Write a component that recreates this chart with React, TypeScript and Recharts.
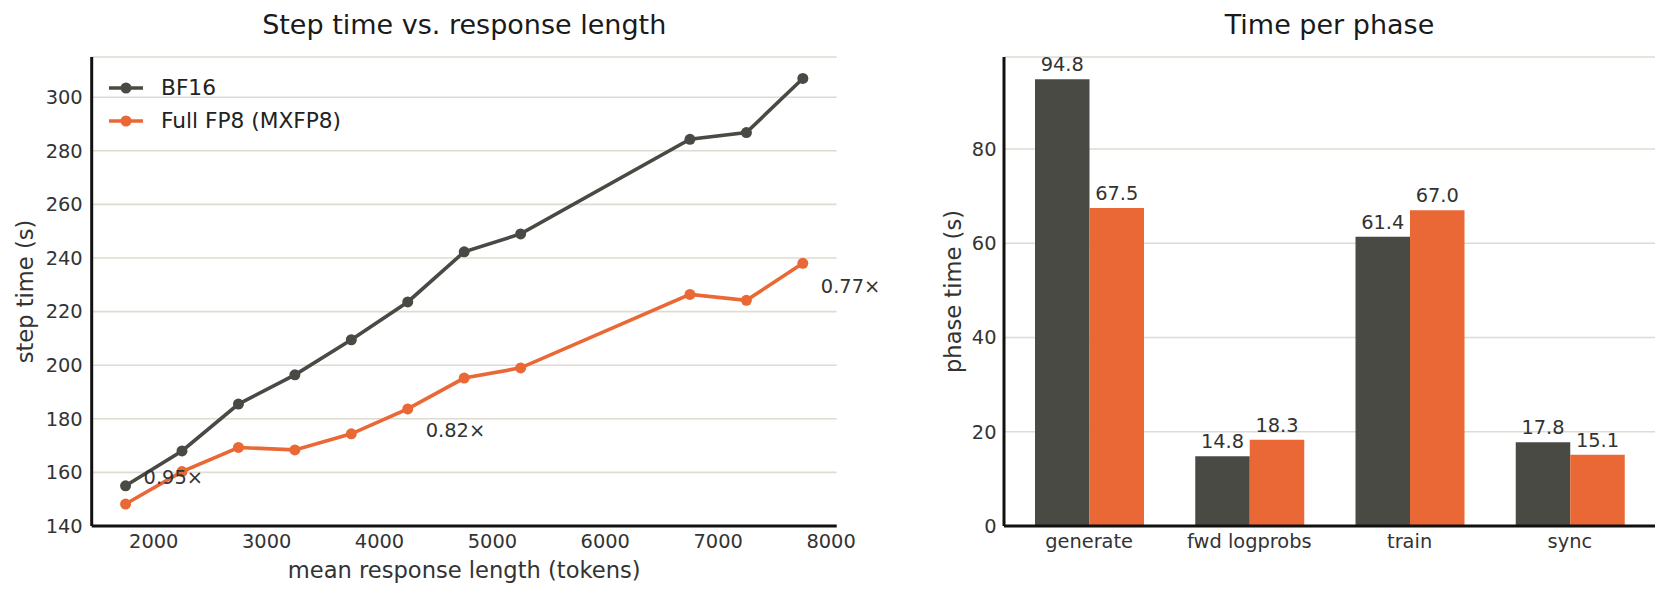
import React from 'react';
import {
  LineChart, Line, BarChart, Bar, XAxis, YAxis, CartesianGrid, Legend,
  ReferenceDot, LabelList, Label,
} from 'recharts';

// ---- Data ----
const lengths = [1750, 2250, 2750, 3250, 3750, 4250, 4750, 5250, 6750, 7250, 7750];
const bf16Step = [155.0, 168.0, 185.5, 196.4, 209.5, 223.6, 242.3, 249.0, 284.3, 286.8, 307.0];
const fp8Step = [148.2, 160.3, 169.3, 168.4, 174.4, 183.7, 195.2, 199.0, 226.4, 224.2, 238.0];
const seriesNames = ['BF16', 'Full FP8 (MXFP8)'];

const xTicks = [2000, 3000, 4000, 5000, 6000, 7000, 8000];
const yTicksLeft = [140, 160, 180, 200, 220, 240, 260, 280, 300];

const annIndex = [0, 5, 10];
const annText = ['0.95×', '0.82×', '0.77×'];
const annY = [158.1, 175.6, 229.5];

const phases = ['generate', 'fwd logprobs', 'train', 'sync'];
const bf16Phase = [94.8, 14.8, 61.4, 17.8];
const fp8Phase = [67.5, 18.3, 67.0, 15.1];
const yTicksRight = [0, 20, 40, 60, 80];

// ---- Style ----
const FONT = '"DejaVu Sans", sans-serif';
const DARK = '#4a4a45';
const ORANGE = '#e96835';
const colors = [DARK, ORANGE];
const GRID = '#dedbd2';
const AXIS = '#111111';
const TEXT = '#333333';

const lineData = lengths.map((x, i) => ({ x, bf16: bf16Step[i], fp8: fp8Step[i] }));
const barData = phases.map((p, i) => ({ phase: p, bf16: bf16Phase[i], fp8: fp8Phase[i] }));

const tickStyle = { fontSize: 19.4, fill: TEXT, fontFamily: FONT };

const legendContent = () => (
  <div style={{ fontFamily: FONT, width: 320 }}>
    {seriesNames.map((name, i) => (
      <div key={name} style={{ display: 'flex', alignItems: 'center', height: 33 }}>
        <svg width={34} height={14} style={{ marginRight: 18, overflow: 'visible' }}>
          <line x1={0} y1={7} x2={34} y2={7} stroke={colors[i]} strokeWidth={3.6} />
          <circle cx={17} cy={7} r={5.5} fill={colors[i]} />
        </svg>
        <span style={{ fontSize: 21.7, color: '#222', lineHeight: '33px' }}>{name}</span>
      </div>
    ))}
  </div>
);

function StepChart() {
  return (
    <LineChart
      width={900}
      height={599}
      data={lineData}
      margin={{ top: 57, right: 63.3, left: 11.7, bottom: 18 }}
    >
      <CartesianGrid vertical={false} stroke={GRID} strokeWidth={1.6} />
      <XAxis
        dataKey="x"
        type="number"
        domain={[1450, 8050]}
        ticks={xTicks}
        allowDataOverflow
        height={55}
        tickLine={false}
        tickSize={0}
        tickMargin={8}
        axisLine={{ stroke: AXIS, strokeWidth: 3 }}
        tick={tickStyle}
      >
        <Label
          value="mean response length (tokens)"
          position="insideBottom"
          offset={3}
          style={{ fontSize: 22.6, fill: TEXT, fontFamily: FONT }}
        />
      </XAxis>
      <YAxis
        type="number"
        domain={[140, 315]}
        ticks={yTicksLeft}
        allowDataOverflow
        width={80}
        tickLine={false}
        tickSize={0}
        tickMargin={9}
        axisLine={{ stroke: AXIS, strokeWidth: 3 }}
        tick={tickStyle}
      >
        <Label
          value="step time (s)"
          angle={-90}
          position="center"
          dx={-26.7}
          style={{ fontSize: 22.6, fill: TEXT, fontFamily: FONT, textAnchor: 'middle' }}
        />
      </YAxis>
      <Legend
        layout="vertical"
        align="center"
        verticalAlign="middle"
        content={legendContent}
        wrapperStyle={{ left: 109, top: 71, width: 320 }}
      />
      <Line
        dataKey="bf16"
        name={seriesNames[0]}
        stroke={DARK}
        strokeWidth={3.6}
        dot={{ r: 5.5, fill: DARK, stroke: DARK, strokeWidth: 0 }}
        activeDot={false}
        isAnimationActive={false}
      />
      <Line
        dataKey="fp8"
        name={seriesNames[1]}
        stroke={ORANGE}
        strokeWidth={3.6}
        dot={{ r: 5.5, fill: ORANGE, stroke: ORANGE, strokeWidth: 0 }}
        activeDot={false}
        isAnimationActive={false}
      />
      {annIndex.map((idx, i) => (
        <ReferenceDot
          key={annText[i]}
          x={lengths[idx]}
          y={annY[i]}
          r={1}
          fill="none"
          stroke="none"
          ifOverflow="visible"
          label={{
            value: annText[i],
            position: 'right',
            offset: 17,
            style: { fontSize: 19.4, fill: TEXT, fontFamily: FONT },
          }}
        />
      ))}
    </LineChart>
  );
}

function PhaseChart() {
  return (
    <BarChart
      width={797}
      height={599}
      data={barData}
      margin={{ top: 57, right: 12, left: 0, bottom: 18 }}
      barGap={0}
    >
      <CartesianGrid vertical={false} stroke={GRID} strokeWidth={1.6} />
      <XAxis
        dataKey="phase"
        type="category"
        padding={{ left: 5, right: 5 }}
        height={55}
        tickLine={false}
        tickSize={0}
        tickMargin={8}
        axisLine={{ stroke: AXIS, strokeWidth: 3 }}
        tick={tickStyle}
        interval={0}
      />
      <YAxis
        type="number"
        domain={[0, 99.54]}
        ticks={yTicksRight}
        allowDataOverflow
        width={134}
        tickLine={false}
        tickSize={0}
        tickMargin={7.5}
        axisLine={{ stroke: AXIS, strokeWidth: 3 }}
        tick={tickStyle}
      >
        <Label
          value="phase time (s)"
          angle={-90}
          position="center"
          dx={16}
          style={{ fontSize: 22.6, fill: TEXT, fontFamily: FONT, textAnchor: 'middle' }}
        />
      </YAxis>
      <Bar dataKey="bf16" name={seriesNames[0]} fill={DARK} barSize={54.5} isAnimationActive={false}>
        <LabelList
          dataKey="bf16"
          position="top"
          offset={8}
          formatter={(v: number) => v.toFixed(1)}
          style={{ fontSize: 19.4, fill: TEXT, fontFamily: FONT }}
        />
      </Bar>
      <Bar dataKey="fp8" name={seriesNames[1]} fill={ORANGE} barSize={54.5} isAnimationActive={false}>
        <LabelList
          dataKey="fp8"
          position="top"
          offset={8}
          formatter={(v: number) => v.toFixed(1)}
          style={{ fontSize: 19.4, fill: TEXT, fontFamily: FONT }}
        />
      </Bar>
    </BarChart>
  );
}

export default function App() {
  return (
    <div
      style={{
        position: 'absolute',
        left: 0,
        top: 0,
        width: 1667,
        height: 599,
        background: '#ffffff',
        fontFamily: FONT,
        overflow: 'hidden',
      }}
    >
      <svg
        width={1667}
        height={599}
        style={{ position: 'absolute', left: 0, top: 0, pointerEvents: 'none' }}
      >
        <text x={464.2} y={34.3} textAnchor="middle" fontSize={27} fill="#1a1a1a" fontFamily={FONT}>
          Step time vs. response length
        </text>
        <text x={1329.5} y={34.3} textAnchor="middle" fontSize={27} fill="#1a1a1a" fontFamily={FONT}>
          Time per phase
        </text>
      </svg>
      <div style={{ position: 'absolute', left: 0, top: 0 }}>
        <StepChart />
      </div>
      <div style={{ position: 'absolute', left: 870, top: 0 }}>
        <PhaseChart />
      </div>
    </div>
  );
}
